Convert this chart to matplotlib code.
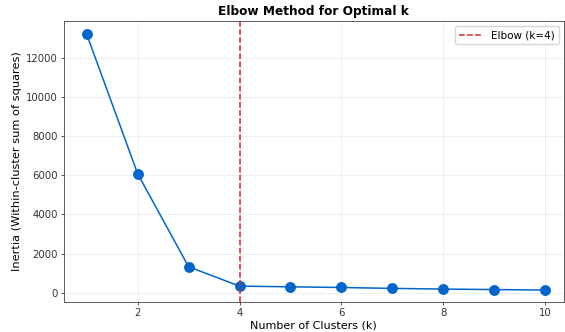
import numpy as np
import matplotlib.pyplot as plt

# inertia values for each k
k_values = [1, 2, 3, 4, 5, 6, 7, 8, 9, 10]
inertia = [13200, 6080, 1330, 340, 305, 270, 225, 190, 165, 140]
elbow_k = 4

fig = plt.figure(figsize=(5.65, 3.32), dpi=100)
ax = fig.add_axes([0.113, 0.091, 0.885, 0.846])

ax.plot(k_values, inertia, marker="o", color="#0066cc", linewidth=1.1,
        markersize=6.8)
ax.axvline(elbow_k, color="#d62728", linestyle="--", linewidth=1.1,
           label=f"Elbow (k={elbow_k})")

ax.set_xlim(0.55, 10.37)
ax.set_ylim(-460, 13890)
ax.set_xlabel("Number of Clusters (k)", fontsize=8, labelpad=2)
ax.set_ylabel("Inertia (Within-cluster sum of squares)", fontsize=8.2, labelpad=3)
ax.set_title("Elbow Method for Optimal k", fontsize=8.7, fontweight="bold", pad=4)
ax.tick_params(labelsize=7.3, length=2.5, width=0.6, pad=2, colors="#333333")
for sp in ax.spines.values():
    sp.set_linewidth(0.6)
    sp.set_color("#444444")
ax.grid(True, alpha=0.3, linewidth=0.5)
ax.legend(fontsize=7.5, loc="upper right", handlelength=2.2)

fig.savefig("out.png", dpi=100)
